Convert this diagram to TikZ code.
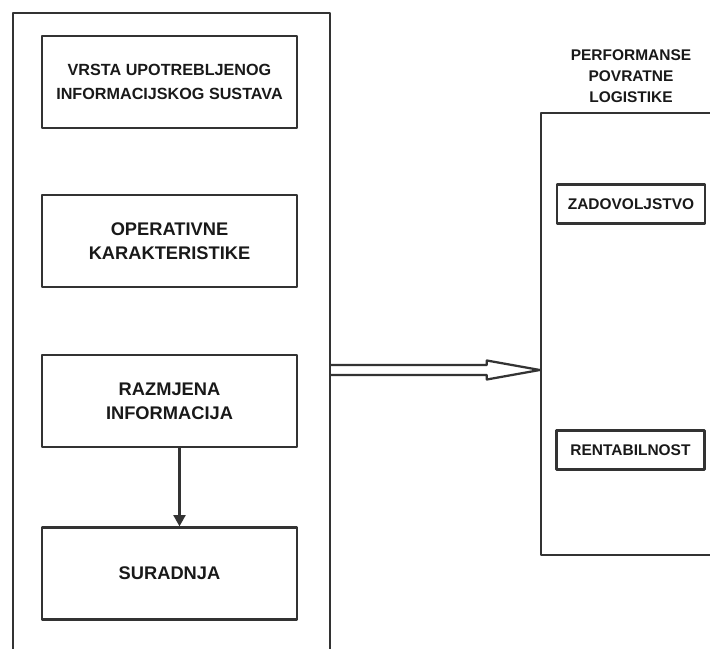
\documentclass[tikz,border=0pt]{standalone}
\usepackage{fontspec}
\setmainfont{Liberation Sans}
\usetikzlibrary{arrows.meta}
\usetikzlibrary{calc}

\begin{document}
\begin{tikzpicture}[line cap=round,line join=round,>={Triangle[length=8pt,width=8.5pt]},x=0.025cm,y=-0.025cm, line width=1.6pt, color=black!80, text=black!90,
  frame/.style={draw, rectangle, inner sep=0pt},
  blok/.style={draw, rectangle, align=center, minimum width=6.375cm, minimum height=2.3cm, font=\bfseries\fontsize{13}{17}\selectfont},
  mjera/.style={draw, rectangle, align=center, minimum width=3.7cm, minimum height=0.975cm, font=\bfseries\fontsize{11}{14}\selectfont}]
                    \useasboundingbox (0,0) rectangle (710,649);
                    \clip (0,0) rectangle (710,649);

                    \node[frame, minimum width=7.925cm, minimum height=17.5cm] (lijevo) at (171.5,363) {};
                    \node[frame, minimum width=5.5cm, minimum height=11.05cm] (desno) at (651,334) {};

                    \node[blok, font=\bfseries\fontsize{11.5}{16.5}\selectfont] (vrsta) at (169.5,82) {VRSTA UPOTREBLJENOG\\INFORMACIJSKOG SUSTAVA};
                    \node[blok] (oper) at (169.5,241) {OPERATIVNE\\KARAKTERISTIKE};
                    \node[blok] (razm) at (169.5,401) {RAZMJENA\\INFORMACIJA};
                    \node[blok] (surad) at (169.5,573.5) {SURADNJA};

                    \node[align=center, font=\bfseries\fontsize{11}{15}\selectfont] (perf) at (631,76) {PERFORMANSE\\POVRATNE\\LOGISTIKE};
                    \node[mjera] (zad) at (631,204) {ZADOVOLJSTVO};
                    \node[mjera] (rent) at (630.5,450) {RENTABILNOST};

                    \draw[->] ($(razm.south)+(10,0)$) -- ($(surad.north)+(10,0)$);

                    \coordinate (poc) at (lijevo.east |- 0,370);
                    \coordinate (vrh) at (desno.west |- 0,370);
                    \draw (poc) ++(0,-5) -- ($(vrh)+(-53,-5)$) -- ++(0,-4.5) -- (vrh) -- ($(vrh)+(-53,9.5)$) -- ++(0,-4.5) -- ($(poc)+(0,5)$);
                \end{tikzpicture}
\end{document}
